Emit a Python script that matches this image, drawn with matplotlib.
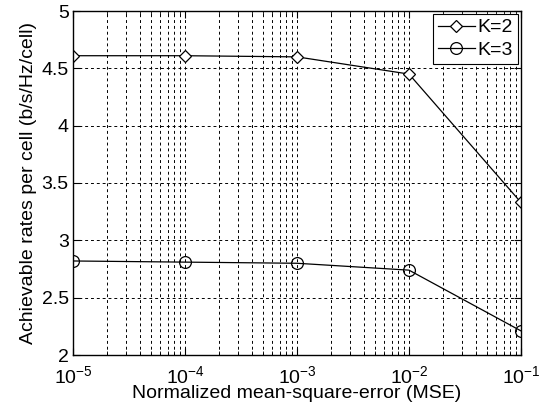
import numpy as np
import matplotlib.pyplot as plt
from matplotlib.ticker import LogLocator

plt.rcParams['font.family'] = ['Liberation Sans', 'DejaVu Sans']
plt.rcParams['mathtext.fontset'] = 'custom'
plt.rcParams['mathtext.rm'] = 'Liberation Sans'
plt.rcParams['mathtext.it'] = 'Liberation Sans'
plt.rcParams['mathtext.default'] = 'regular'

# data
mse = [1e-5, 1e-4, 1e-3, 1e-2, 1e-1]
rate_k2 = [4.61, 4.61, 4.60, 4.45, 3.33]
rate_k3 = [2.82, 2.81, 2.80, 2.74, 2.21]
x_labels = ['$10^{-5}$', '$10^{-4}$', '$10^{-3}$', '$10^{-2}$', '$10^{-1}$']
y_ticks = [2, 2.5, 3, 3.5, 4, 4.5, 5]

fig = plt.figure(figsize=(5.44, 4.12), dpi=100)
ax = fig.add_axes([73 / 544, 1 - 355 / 412, 448 / 544, 344 / 412])

ax.plot(mse, rate_k2, color='black', lw=0.9, marker='D', ms=6,
        mfc='white', mec='black', mew=0.9, label='K=2')
ax.plot(mse, rate_k3, color='black', lw=0.9, marker='o', ms=8.5,
        mfc='none', mec='black', mew=0.9, label='K=3')

ax.set_xscale('log')
ax.set_xlim(1e-5, 1e-1)
ax.set_ylim(2, 5)
ax.set_xticks(mse)
ax.set_xticklabels(x_labels)
ax.xaxis.set_minor_locator(LogLocator(base=10, subs=np.arange(2, 10), numticks=20))
ax.set_yticks(y_ticks)
ax.set_yticklabels([f'{v:g}' for v in y_ticks])

ax.grid(True, which='both', axis='x', color='black', ls=(0, (3, 3)), lw=0.7)
ax.grid(True, which='major', axis='y', color='black', ls=(0, (3, 3)), lw=0.7)
ax.tick_params(which='both', direction='in', top=True, right=True, labelsize=14)
ax.tick_params(which='major', length=5)
ax.tick_params(which='minor', length=3)
ax.tick_params(axis='x', pad=7)
ax.tick_params(axis='y', pad=3)

ax.set_xlabel('Normalized mean-square-error (MSE)', fontsize=14, labelpad=-1)
ax.set_ylabel('Achievable rates per cell (b/s/Hz/cell)', fontsize=14, labelpad=3)

leg = ax.legend(loc='upper right', fontsize=14, frameon=True, fancybox=False,
                framealpha=1, edgecolor='black', handlelength=1.9,
                borderaxespad=0.15, borderpad=0.25, labelspacing=0.25,
                handletextpad=0.15)
leg.get_frame().set_linewidth(0.8)

for s in ax.spines.values():
    s.set_linewidth(1.0)

fig.savefig('out.png', dpi=100)
